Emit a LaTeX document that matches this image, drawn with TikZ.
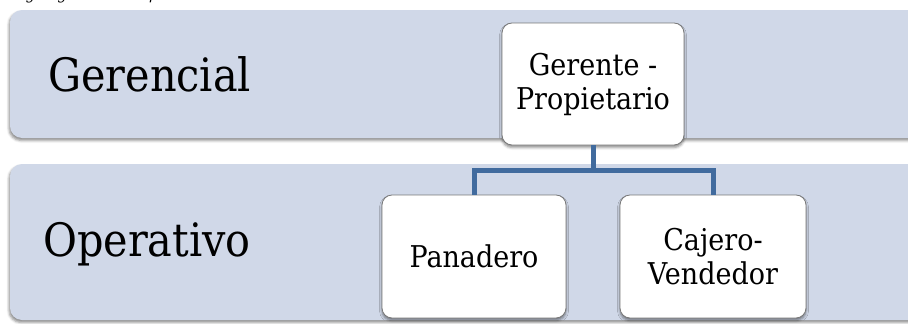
\documentclass[tikz,border=0pt]{standalone}
\usepackage{fontspec}
\setmainfont{DejaVu Serif}[FakeStretch=0.9]
\newfontfamily\capfont{DejaVu Serif}[FakeStretch=0.9]
\usetikzlibrary{shadows.blur}
\definecolor{bandfill}{RGB}{208,216,232}
\definecolor{linkblue}{RGB}{65,107,158}
\definecolor{boxedge}{RGB}{120,120,120}
\tikzset{
  band/.style={fill=bandfill, rounded corners=12pt,
    blur shadow={shadow xshift=-1pt, shadow yshift=-2.5pt, shadow blur radius=2.5pt, shadow opacity=45}},
  levellabel/.style={font=\fontsize{46}{50}\selectfont, anchor=west, inner sep=0pt},
  rolebox/.style={draw=boxedge, line width=0.8pt, fill=white, rounded corners=10pt,
    minimum width=182pt, minimum height=122pt, align=center, inner sep=0pt,
    font=\fontsize{30}{34}\selectfont,
    blur shadow={shadow xshift=0pt, shadow yshift=-2.5pt, shadow blur radius=2.5pt, shadow opacity=45}},
  link/.style={draw=linkblue, line width=5pt}
}
\begin{document}
\begin{tikzpicture}[x=1pt,y=-1pt]
\useasboundingbox (0,0) rectangle (908,324);
\begin{scope}
\clip (0,0) rectangle (908,324);
% caption line above the chart (mostly outside the page)
\node[anchor=base west, inner sep=0pt, font=\capfont\itshape\fontsize{16}{18}\selectfont] (cap) at (7,0) {Organigrama de la panadería};
% level bands
\path[band] (10,10) rectangle (940,138);
\path[band] (10,164) rectangle (940,320);
\end{scope}
\node[levellabel] (lg) at (48,74) {Gerencial};
\node[levellabel] (lo) at (43,244) {Operativo};
% role boxes
\node[rolebox] (ger) at (593,84) {Gerente -\\Propietario};
\node[rolebox, minimum width=184pt, minimum height=123pt] (pan) at (474,256.5) {Panadero};
\node[rolebox, minimum width=186pt, minimum height=123pt] (caj) at (713,256.5) {Cajero-\\Vendedor};
% connectors
\coordinate (mid) at (593,170.5);
\draw[link] (ger.south) -- (mid);
\draw[link] (pan.north) |- (mid) -| (caj.north);
\end{tikzpicture}
\end{document}
